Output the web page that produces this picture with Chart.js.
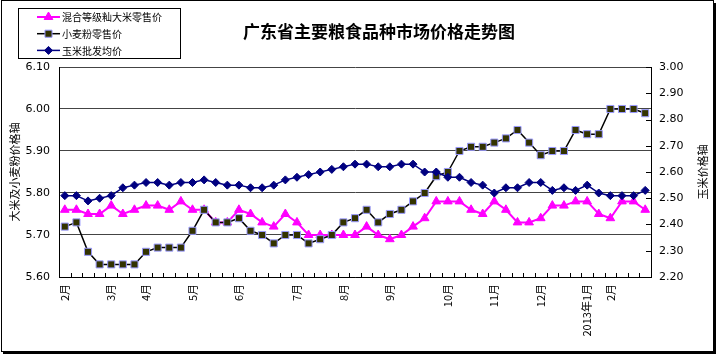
<!DOCTYPE html>
<html>
<head>
<meta charset="utf-8">
<script src="https://cdn.jsdelivr.net/npm/chart.js@4.4.0/dist/chart.umd.min.js"></script>
<style>
  body { margin: 0; background: #fff; }
  #wrap { width: 720px; height: 362px; }
</style>
</head>
<body>
<div id="wrap"><canvas id="grainChart" width="720" height="362"></canvas></div>
<script>
// x 轴标签（每周一个点，只在月初标注）
const tickLabels = [
  "2月", "", "", "", "3月", "", "", "4月", "", "", "",
  "5月", "", "", "", "6月", "", "", "", "", "7月", "",
  "", "", "8月", "", "", "", "9月", "", "", "", "",
  "10月", "", "", "", "11月", "", "", "", "12月", "", "",
  "", "2013年1月", "", "2月", "", "", ""
];

// 混合等级籼大米零售价（左轴）
const riceRetail = [
  5.76, 5.76, 5.75, 5.75, 5.77, 5.75, 5.76, 5.77, 5.77, 5.76, 5.78,
  5.76, 5.76, 5.73, 5.73, 5.76, 5.75, 5.73, 5.72, 5.75, 5.73, 5.70,
  5.70, 5.70, 5.70, 5.70, 5.72, 5.70, 5.69, 5.70, 5.72, 5.74, 5.78,
  5.78, 5.78, 5.76, 5.75, 5.78, 5.76, 5.73, 5.73, 5.74, 5.77, 5.77,
  5.78, 5.78, 5.75, 5.74, 5.78, 5.78, 5.76
];

// 小麦粉零售价（左轴）
const flourRetail = [
  5.72, 5.73, 5.66, 5.63, 5.63, 5.63, 5.63, 5.66, 5.67, 5.67, 5.67,
  5.71, 5.76, 5.73, 5.73, 5.74, 5.71, 5.70, 5.68, 5.70, 5.70, 5.68,
  5.69, 5.70, 5.73, 5.74, 5.76, 5.73, 5.75, 5.76, 5.78, 5.80, 5.84,
  5.85, 5.90, 5.91, 5.91, 5.92, 5.93, 5.95, 5.92, 5.89, 5.90, 5.90,
  5.95, 5.94, 5.94, 6.00, 6.00, 6.00, 5.99
];

// 玉米批发均价（右轴）
const cornWholesale = [
  2.51, 2.51, 2.49, 2.50, 2.51, 2.54, 2.55, 2.56, 2.56, 2.55, 2.56,
  2.56, 2.57, 2.56, 2.55, 2.55, 2.54, 2.54, 2.55, 2.57, 2.58, 2.59,
  2.60, 2.61, 2.62, 2.63, 2.63, 2.62, 2.62, 2.63, 2.63, 2.60, 2.60,
  2.58, 2.58, 2.56, 2.55, 2.52, 2.54, 2.54, 2.56, 2.56, 2.53, 2.54,
  2.53, 2.55, 2.52, 2.51, 2.51, 2.51, 2.53
];

const chartTitle = "广东省主要粮食品种市场价格走势图";
const leftAxisTitle = "大米及小麦粉价格轴";
const rightAxisTitle = "玉米价格轴";

const cjk = "'Noto Sans CJK SC', sans-serif";
const num = "'DejaVu Sans', 'Noto Sans CJK SC', sans-serif";

function markerPath(ctx, style, x, y, r) {
    ctx.beginPath();
    if (style === "triangle") {
        ctx.moveTo(x, y - r);
        ctx.lineTo(x + r * 0.866, y + r * 0.5);
        ctx.lineTo(x - r * 0.866, y + r * 0.5);
    } else if (style === "rect") {
        const s = r * Math.SQRT1_2;
        ctx.rect(x - s, y - s, 2 * s, 2 * s);
    } else {
        ctx.moveTo(x, y - r);
        ctx.lineTo(x + r, y);
        ctx.lineTo(x, y + r);
        ctx.lineTo(x - r, y);
    }
    ctx.closePath();
}

const decor = {
    id: "decor",
    beforeDraw(chart) {
        const ctx = chart.ctx;
        ctx.save();
        ctx.fillStyle = "#fff";
        ctx.fillRect(0, 0, chart.width, chart.height);
        ctx.strokeStyle = "#000";
        ctx.lineWidth = 1;
        ctx.strokeRect(1.5, 0.5, 712, 351);
        ctx.fillStyle = "#000";
        ctx.fillRect(714, 3, 2, 351);
        ctx.fillRect(3, 352, 713, 2);
        ctx.restore();
    },
    afterDraw(chart) {
        const ctx = chart.ctx;
        const area = chart.chartArea;
        const xs = chart.scales.x;
        const yr = chart.scales.y1;
        ctx.save();

        // 内刻度线
        ctx.strokeStyle = "#000";
        ctx.lineWidth = 1;
        const step = xs.getPixelForValue(1) - xs.getPixelForValue(0);
        for (let i = 0; i <= tickLabels.length; i++) {
            const x = Math.round(xs.getPixelForValue(0) - step / 2 + i * step) + 0.5;
            ctx.beginPath();
            ctx.moveTo(x, area.bottom);
            ctx.lineTo(x, area.bottom - 4);
            ctx.stroke();
        }
        yr.ticks.forEach(t => {
            const y = Math.round(yr.getPixelForValue(t.value)) + 0.5;
            ctx.beginPath();
            ctx.moveTo(area.right - 5, y);
            ctx.lineTo(area.right, y);
            ctx.stroke();
        });

        // 标题
        ctx.fillStyle = "#000";
        ctx.font = "bold 17px " + cjk;
        ctx.textAlign = "center";
        ctx.textBaseline = "middle";
        ctx.fillText(chartTitle, 379, 32);

        // 右轴标题
        ctx.font = "11px " + cjk;
        ctx.save();
        ctx.translate(703, (area.top + area.bottom) / 2);
        ctx.rotate(-Math.PI / 2);
        ctx.fillText(rightAxisTitle, 0, 0);
        ctx.restore();

        // 图例
        ctx.strokeStyle = "#000";
        ctx.lineWidth = 1;
        ctx.strokeRect(18.5, 8.5, 162, 50);
        ctx.font = "10px " + cjk;
        ctx.textAlign = "left";
        chart.data.datasets.forEach((ds, i) => {
            const y = 17 + i * 16.7;
            ctx.strokeStyle = ds.borderColor;
            ctx.lineWidth = ds.borderWidth;
            ctx.beginPath();
            ctx.moveTo(37, y);
            ctx.lineTo(60, y);
            ctx.stroke();
            markerPath(ctx, ds.pointStyle, 48.5, y, ds.pointRadius);
            ctx.fillStyle = ds.pointBackgroundColor;
            ctx.fill();
            ctx.strokeStyle = ds.pointBorderColor;
            ctx.lineWidth = 1;
            ctx.stroke();
            ctx.fillStyle = "#000";
            ctx.fillText(ds.label, 62, y + 0.5);
        });
        ctx.restore();
    }
};

const ctx = document.getElementById("grainChart").getContext("2d");

new Chart(ctx, {
    type: "line",
    data: {
        labels: tickLabels,
        datasets: [
            {
                label: "混合等级籼大米零售价",
                data: riceRetail,
                yAxisID: "y",
                borderColor: "#ff00ff",
                borderWidth: 2,
                pointStyle: "triangle",
                pointRadius: 5,
                pointBackgroundColor: "#ff00ff",
                pointBorderColor: "#ff00ff",
                pointBorderWidth: 1,
                tension: 0,
                order: 2
            },
            {
                label: "小麦粉零售价",
                data: flourRetail,
                yAxisID: "y",
                borderColor: "#000000",
                borderWidth: 1.5,
                pointStyle: "rect",
                pointRadius: 5,
                pointBackgroundColor: "#333300",
                pointBorderColor: "#9999ff",
                pointBorderWidth: 1,
                tension: 0,
                order: 1
            },
            {
                label: "玉米批发均价",
                data: cornWholesale,
                yAxisID: "y1",
                borderColor: "#000080",
                borderWidth: 1.5,
                pointStyle: "rectRot",
                pointRadius: 4,
                pointBackgroundColor: "#000080",
                pointBorderColor: "#000080",
                pointBorderWidth: 1,
                tension: 0,
                order: 0
            }
        ]
    },
    options: {
        responsive: false,
        animation: false,
        layout: { padding: { top: 67, left: 0, right: 0, bottom: 0 } },
        plugins: {
            legend: { display: false },
            title: { display: false },
            tooltip: { enabled: false }
        },
        scales: {
            x: {
                offset: true,
                grid: { display: false, drawTicks: false },
                border: { color: "#000", width: 1 },
                ticks: {
                    autoSkip: false,
                    maxRotation: 90,
                    minRotation: 90,
                    padding: 7,
                    color: "#000",
                    font: { family: cjk, size: 11 }
                },
                afterFit: s => { s.height = 85; }
            },
            y: {
                position: "left",
                min: 5.6,
                max: 6.1,
                ticks: {
                    stepSize: 0.1,
                    padding: 9,
                    color: "#000",
                    font: { family: num, size: 11 },
                    callback: v => Number(v).toFixed(2)
                },
                grid: { color: "#444", drawTicks: false },
                border: { color: "#000", width: 1 },
                title: {
                    display: true,
                    text: leftAxisTitle,
                    color: "#000",
                    font: { family: cjk, size: 11 },
                    padding: { top: 8, bottom: 0 }
                },
                afterFit: s => { s.width = 59; }
            },
            y1: {
                position: "right",
                min: 2.2,
                max: 3.0,
                ticks: {
                    stepSize: 0.1,
                    padding: 8,
                    color: "#000",
                    font: { family: num, size: 11 },
                    callback: v => Number(v).toFixed(2)
                },
                grid: { drawOnChartArea: false, drawTicks: false },
                border: { color: "#000", width: 1 },
                afterFit: s => { s.width = 69; }
            }
        }
    },
    plugins: [decor]
});
</script>
</body>
</html>
